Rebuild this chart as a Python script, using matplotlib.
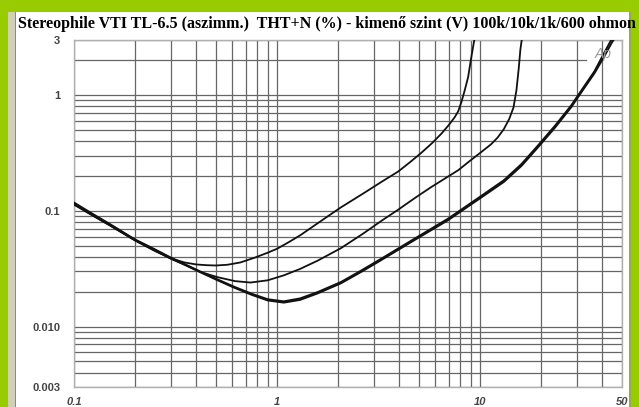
import matplotlib.pyplot as plt
from matplotlib.patches import Rectangle

# THD+N (%) vs output level (V)
x_100k = [0.1, 0.12, 0.15, 0.2, 0.25, 0.3, 0.35, 0.4, 0.45, 0.5, 0.57, 0.66, 0.78, 0.9, 1.0, 1.15,
          1.31, 1.6, 2.06, 2.67, 3.3, 3.94, 4.5, 5.11, 5.8, 6.45, 7.0, 7.5, 7.8, 8.07, 8.4, 8.73,
          9.0, 9.45]
y_100k = [0.113, 0.094, 0.075, 0.0555, 0.045, 0.0388, 0.0358, 0.0344, 0.0339, 0.0337, 0.0342,
          0.0358, 0.0395, 0.0435, 0.047, 0.054, 0.062, 0.079, 0.107, 0.142, 0.18, 0.218, 0.262,
          0.315, 0.385, 0.465, 0.55, 0.645, 0.725, 0.86, 1.1, 1.43, 2.0, 3.3]

x_10k = [0.1, 0.12, 0.15, 0.2, 0.25, 0.3, 0.36, 0.42, 0.51, 0.62, 0.74, 0.9, 1.08, 1.3, 1.58,
         2.06, 2.67, 3.3, 3.94, 4.8, 5.73, 6.7, 7.79, 8.9, 10.1, 11.3, 12.2, 13.1, 13.9, 14.6,
         15.1, 15.5, 15.8, 16.2]
y_10k = [0.115, 0.094, 0.075, 0.0555, 0.0455, 0.0385, 0.0335, 0.0296, 0.0267, 0.0247, 0.0240,
         0.0251, 0.0277, 0.0315, 0.037, 0.0475, 0.064, 0.083, 0.102, 0.13, 0.160, 0.19, 0.224,
         0.27, 0.321, 0.375, 0.43, 0.51, 0.62, 0.78, 1.1, 1.7, 2.5, 3.4]

x_1k = [0.1, 0.12, 0.15, 0.2, 0.25, 0.3, 0.36, 0.42, 0.5, 0.61, 0.75, 0.9, 1.08, 1.3, 1.58,
        2.06, 2.6, 3.24, 4.72, 6.95, 10.1, 13.1, 16.0, 19.3, 23.5, 28.1, 32.0, 36.6, 40.5,
        44.4, 47.0]
y_1k = [0.116, 0.095, 0.076, 0.056, 0.046, 0.039, 0.0335, 0.0294, 0.0255, 0.0218, 0.0188,
        0.0168, 0.0161, 0.0170, 0.0193, 0.0236, 0.0297, 0.0373, 0.0555, 0.083, 0.13, 0.178,
        0.245, 0.355, 0.53, 0.787, 1.1, 1.55, 2.1, 2.82, 3.3]

x_600 = [0.1, 0.12, 0.15, 0.2, 0.25, 0.3, 0.36, 0.42, 0.5, 0.61, 0.75, 0.9, 1.08, 1.3, 1.58,
         2.06, 2.6, 3.24, 4.72, 6.95, 10.1, 13.1, 16.0, 19.3, 23.5, 28.1, 32.0, 36.6, 40.2,
         44.0, 46.5]
y_600 = [0.118, 0.097, 0.077, 0.0565, 0.0465, 0.0394, 0.0339, 0.0298, 0.0259, 0.0222, 0.0192,
         0.0172, 0.0165, 0.0175, 0.0198, 0.0242, 0.0305, 0.0383, 0.057, 0.0855, 0.134, 0.184,
         0.254, 0.368, 0.55, 0.815, 1.14, 1.61, 2.2, 2.95, 3.4]

xtick_vals = [0.1, 1, 10, 50]
xtick_labels = ['0.1', '1', '10', '50']
ytick_vals = [0.003, 0.01, 0.1, 1, 3]
ytick_labels = ['0.003', '0.010', '0.1', '1', '3']

title = 'Stereophile VTI TL-6.5 (aszimm.)  THT+N (%) - kimenő szint (V) 100k/10k/1k/600 ohmon'

W, H = 639, 407
fig = plt.figure(figsize=(W / 100, H / 100), dpi=100)
fig.patch.set_facecolor('white')


def box(x, y, w, h, color):
    # pixel box measured from the top-left corner
    fig.add_artist(Rectangle((x / W, 1 - (y + h) / H), w / W, h / H,
                             transform=fig.transFigure, facecolor=color,
                             edgecolor='none', zorder=0))


green = '#99cc00'
box(0, 0, W, 12, green)
box(0, 0, 8, H, green)
box(8, 12, 7, H - 12, '#cfd0b4')
box(15, 12, 1, H - 12, '#8a8a80')
box(631, 0, 8, H, green)
box(629, 12, 2, H - 12, '#9a9a90')

fig.text(18 / W, 1 - 28 / H, title, family='Liberation Serif', weight='bold',
         fontsize=11.5, ha='left', va='baseline', color='black')

ax = fig.add_axes([74 / W, 1 - 387 / H, 548 / W, 347 / H])
ax.set_xscale('log')
ax.set_yscale('log')
ax.set_xlim(0.1, 50)
ax.set_ylim(0.003, 3)
ax.set_facecolor('white')

# grid
grid_x = [m * 10.0 ** e for e in (-1, 0, 1) for m in range(1, 10) if m * 10.0 ** e <= 50]
grid_y = [m * 10.0 ** e for e in (-3, -2, -1, 0) for m in range(1, 10)
          if 0.003 <= m * 10.0 ** e <= 3]
for gx in grid_x:
    ax.axvline(gx, color='#666666', lw=0.9, zorder=1)
for gy in grid_y:
    xmax = 0.935 if gy == 2 else 1
    ax.axhline(gy, xmax=xmax, color='#666666', lw=0.9, zorder=1)

for sp in ax.spines.values():
    sp.set_color('#b0b0b0')
    sp.set_linewidth(1.0)

ax.plot(x_100k, y_100k, color='#111111', lw=1.3, zorder=3)
ax.plot(x_10k, y_10k, color='#111111', lw=1.3, zorder=3)
ax.plot(x_1k, y_1k, color='#111111', lw=1.4, zorder=3)
ax.plot(x_600, y_600, color='#111111', lw=1.4, zorder=3)

ax.set_xticks(xtick_vals)
ax.set_xticklabels(xtick_labels, fontstyle='italic', fontweight='bold',
                   fontsize=8, color='#444444', family='Liberation Sans')
ax.set_yticks(ytick_vals)
ax.set_yticklabels(ytick_labels, fontweight='bold', fontsize=8,
                   color='#444444', family='Liberation Sans')
ax.minorticks_off()
ax.tick_params(axis='both', length=0)
ax.tick_params(axis='y', pad=10)
ax.tick_params(axis='x', pad=7)

ax.text(0.966, 0.96, 'Ap', transform=ax.transAxes, fontsize=10,
        fontstyle='italic', color='#999999', ha='center', va='center',
        family='Liberation Sans', zorder=4)

fig.savefig('out.png', dpi=100, facecolor=fig.get_facecolor())
